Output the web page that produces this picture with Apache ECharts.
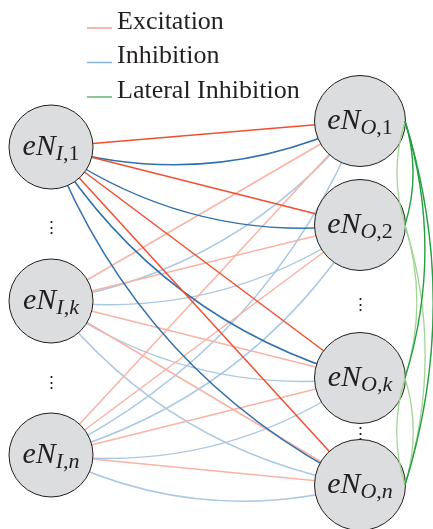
<!DOCTYPE html>
<html>
<head>
<meta charset="utf-8">
<script src="https://cdn.jsdelivr.net/npm/echarts@6/dist/echarts.min.js"></script>
<style>html,body{margin:0;padding:0;background:#fff}#c{width:433px;height:529px}</style>
</head>
<body>
<div id="c"></div>
<script>
// ---- data ----
const inputNodes = ['I,1', 'I,k', 'I,n'];
const outputNodes = ['O,1', 'O,2', 'O,k', 'O,n'];
const legendNames = ['Excitation', 'Inhibition', 'Lateral Inhibition'];
const strongInputs = ['I,1'];
const lateralStrongLinks = [['O,1', 'O,2'], ['O,1', 'O,k'], ['O,1', 'O,n']];
const lateralLightLinks = [['O,2', 'O,1'], ['O,2', 'O,k'], ['O,2', 'O,n'], ['O,k', 'O,n'], ['O,n', 'O,k']];

// ---- layout (axis units: x = layer, y = vertical position) ----
const inputRowY = [147, 301, 455];
const outputRowY = [121, 225, 378, 485];
const inputEllipsisY = [229, 384];
const outputEllipsisY = [306, 435];
const INPUT_X = 0, OUTPUT_X = 1;
const ANCHOR_X = 1 + 45 / 309;

// ---- styles ----
const C = {
  exStrong: '#f04f31', exLight: '#f9b3a5',
  inStrong: '#3170ad', inLight: '#abc8e3',
  latStrong: '#22a03f', latLight: '#a0d693',
  legEx: '#f38a76', legIn: '#6e9fcf', legLat: '#3fa05a',
  text: '#231f20', fill: '#dcdddf'
};
const serif = 'Liberation Serif';

function sub(s) {
  return s.split('').map(ch => /[A-Za-z]/.test(ch) ? '{si|' + ch + '}' : '{su|' + ch + '}').join('');
}
const labelRich = {
  m: { fontFamily: serif, fontStyle: 'italic', fontSize: 30, color: C.text },
  si: { fontFamily: serif, fontStyle: 'italic', fontSize: 22, color: C.text, padding: [14, 0, 0, 0] },
  su: { fontFamily: serif, fontStyle: 'normal', fontSize: 22, color: C.text, padding: [14, 0, 0, 0] }
};

const nodes = [];
inputNodes.forEach((n, i) => nodes.push({ name: n, value: [INPUT_X, inputRowY[i]], symbolSize: 84 }));
outputNodes.forEach((n, i) => nodes.push({ name: n, value: [OUTPUT_X, outputRowY[i]], symbolSize: 91 }));
const dotLabel = { show: true, formatter: '⋮', fontFamily: 'DejaVu Serif', fontSize: 17, color: C.text, position: 'inside', offset: [0, 0] };
const dotStyle = { color: 'rgba(0,0,0,0)', borderWidth: 0 };
inputEllipsisY.forEach((y, i) => nodes.push({ name: 'di' + i, value: [INPUT_X, y], symbolSize: 1, label: dotLabel, itemStyle: dotStyle }));
outputEllipsisY.forEach((y, i) => nodes.push({ name: 'do' + i, value: [OUTPUT_X, y], symbolSize: 1, label: dotLabel, itemStyle: dotStyle }));

const links = [];
const lightFirst = inputNodes.filter(n => !strongInputs.includes(n)).concat(strongInputs);
lightFirst.forEach(src => {
  const strong = strongInputs.includes(src);
  outputNodes.forEach(dst => {
    links.push({ source: src, target: dst, lineStyle: { color: strong ? C.exStrong : C.exLight, width: 1.5, curveness: 0, opacity: 1 } });
    links.push({ source: src, target: dst, lineStyle: { color: strong ? C.inStrong : C.inLight, width: 1.5, curveness: -0.19, opacity: 1 } });
  });
});

const anchors = outputNodes.map((n, i) => ({ name: 'a' + n, value: [ANCHOR_X, outputRowY[i]], symbolSize: 0, itemStyle: { opacity: 0 } }));
const latLinks = [];
lateralLightLinks.forEach(([s, t]) => latLinks.push({ source: 'a' + s, target: 'a' + t, lineStyle: { color: C.latLight, width: 1.3, curveness: 0.155, opacity: 1 } }));
lateralStrongLinks.forEach(([s, t]) => latLinks.push({ source: 'a' + s, target: 'a' + t, lineStyle: { color: C.latStrong, width: 1.4, curveness: 0.155, opacity: 1 } }));

const legendIcon = 'path://M0,0M25,12L25,13.5L0,13.5L0,12Z';
const legendColors = [C.legEx, C.legIn, C.legLat];

const chart = echarts.init(document.getElementById('c'), null, { renderer: 'canvas' });
chart.setOption({
  animation: false,
  backgroundColor: '#fff',
  grid: { left: 51, right: 73, top: 0, bottom: 0 },
  xAxis: { type: 'value', min: 0, max: 1, show: false },
  yAxis: { type: 'value', min: 0, max: 529, inverse: true, show: false },
  legend: {
    orient: 'vertical', left: 82, top: 4, itemWidth: 25, itemHeight: 14, itemGap: 8.5,
    selectedMode: false,
    textStyle: { fontFamily: serif, fontSize: 26, color: C.text },
    data: legendNames.map(n => ({ name: n, icon: legendIcon }))
  },
  series: [
    ...legendNames.map((n, i) => ({ type: 'scatter', name: n, data: [], itemStyle: { color: legendColors[i] } })),
    {
      type: 'graph', coordinateSystem: 'cartesian2d', layout: 'none', z: 2,
      symbol: 'circle',
      itemStyle: { color: C.fill, borderColor: C.text, borderWidth: 1 },
      lineStyle: { opacity: 1 },
      label: {
        show: true, position: 'inside', offset: [0, -3],
        formatter: p => '{m|eN}' + sub(p.name),
        rich: labelRich
      },
      labelLayout: { hideOverlap: false },
      data: nodes,
      links: links,
      silent: true
    },
    {
      type: 'graph', coordinateSystem: 'cartesian2d', layout: 'none', z: 3,
      symbolSize: 0, label: { show: false },
      lineStyle: { opacity: 1 },
      data: anchors, links: latLinks, silent: true
    }
  ]
});
</script>
</body>
</html>
